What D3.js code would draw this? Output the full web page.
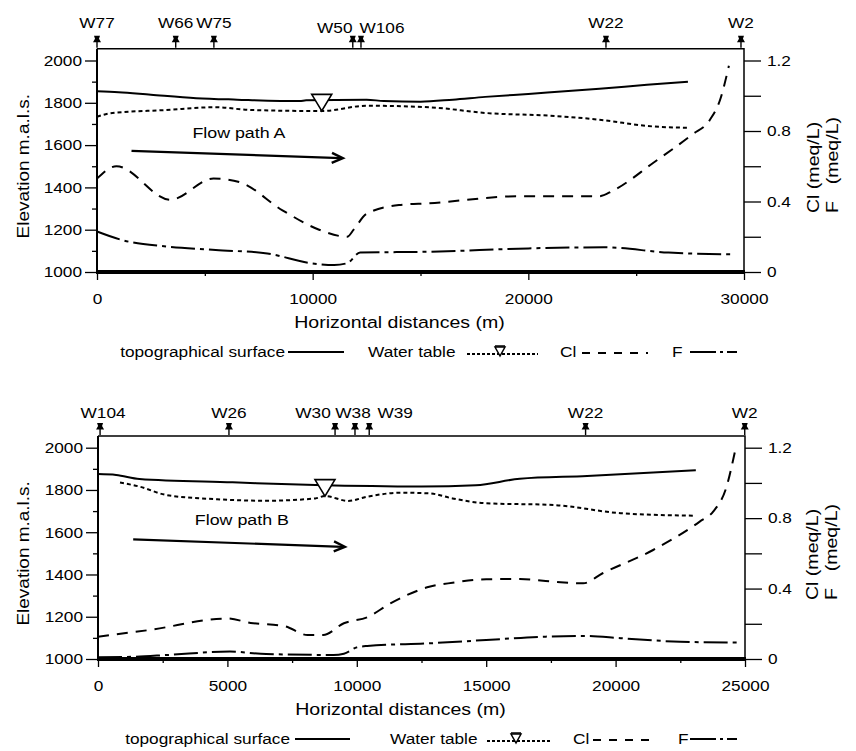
<!DOCTYPE html>
<html><head><meta charset="utf-8">
<script src="https://cdn.jsdelivr.net/npm/d3@7"></script>
<style>
body{margin:0;background:#fff}
svg{display:block}
text{font-family:"Liberation Sans",Arial,sans-serif;fill:#000}
</style>
</head><body>
<svg id="c" width="856" height="751"></svg>
<script>
// ---------------- DATA ----------------
// Flow path A
const wellsA = ["W77","W66","W75","W50","W106","W22","W2"];
const wellsAx = [0,3650,5420,11860,12240,23600,29860];
const xTicksA = [0,10000,20000,30000];
const xMinorA = [5000,15000,25000];
const topoA = [[0,1855],[1000,1850],[2500,1838],[4600,1822],[6500,1815],[9400,1808],[9700,1812],[12500,1815],[13300,1808],[15000,1805],[16500,1815],[18000,1828],[20000,1842],[23300,1866],[25500,1885],[27400,1900]];
const waterA = [[0,1734],[600,1750],[3200,1766],[5500,1779],[7100,1766],[10400,1761],[12500,1786],[15400,1779],[18000,1752],[21200,1738],[23300,1720],[25800,1688],[27400,1682]];
const clA = [[0,0.53],[900,0.60],[3400,0.41],[5400,0.53],[6600,0.51],[8600,0.35],[10300,0.24],[11600,0.20],[11900,0.24],[12500,0.33],[14000,0.38],[15400,0.39],[19600,0.43],[23300,0.43],[23900,0.46],[25800,0.62],[27600,0.78],[28400,0.86],[28900,0.98],[29300,1.17]];
const fA = [[0,0.23],[1200,0.18],[3200,0.145],[5500,0.125],[7900,0.105],[9900,0.05],[11000,0.04],[11600,0.05],[12200,0.11],[15400,0.115],[20000,0.134],[23500,0.14],[26500,0.11],[29500,0.10]];
const arrowA = [[1600,1573],[11400,1538]];
const labelA = "Flow path A";
const labelAPos = [6580,1657];
const triA = [10420,1762];

// Flow path B
const wellsB = ["W104","W26","W30","W38","W39","W22","W2"];
const wellsBx = [80,5060,9160,9930,10480,18840,24990];
const xTicksB = [0,5000,10000,15000,20000,25000];
const xMinorB = [2500,7500,12500,17500,22500];
const topoB = [[0,1875],[700,1871],[1600,1852],[5200,1836],[8400,1823],[12500,1816],[14600,1822],[16300,1853],[18900,1866],[23100,1893]];
const waterB = [[850,1835],[1600,1816],[2650,1776],[4600,1756],[6500,1749],[8400,1760],[8770,1771],[9670,1748],[10400,1768],[11700,1787],[12800,1784],[13700,1760],[15000,1737],[17600,1729],[20200,1690],[23100,1678]];
const clB = [[0,0.127],[2000,0.165],[5000,0.23],[5900,0.205],[7200,0.187],[8100,0.136],[8700,0.136],[9500,0.203],[10400,0.237],[11300,0.316],[12800,0.41],[13700,0.433],[15000,0.453],[16300,0.454],[17600,0.439],[18750,0.43],[19500,0.487],[21450,0.619],[23250,0.78],[23770,0.837],[24290,0.98],[24610,1.177]];
const fB = [[0,0.01],[1400,0.013],[2700,0.023],[5100,0.042],[6500,0.028],[9100,0.023],[9500,0.03],[10000,0.066],[10400,0.074],[12800,0.089],[15000,0.108],[17300,0.127],[18900,0.131],[20200,0.118],[22500,0.098],[24700,0.093]];
const arrowB = [[1360,1566],[9540,1531]];
const labelB = "Flow path B";
const labelBPos = [5560,1657];
const triB = [8770,1771];

// shared axes
const yMajor = [1000,1200,1400,1600,1800,2000];
const yMinor = [1100,1300,1500,1700,1900];
const rTicks = [0,0.2,0.4,0.6,0.8,1.0,1.2];
const rLabels = ["0","","0.4","","0.8","","1.2"];
const legendNames = ["topographical surface","Water table","Cl","F"];
const yTitle = "Elevation m.a.l.s.";
const xTitle = "Horizontal distances (m)";

// ---------------- DRAW ----------------
const SX = 1.15;
const svg = d3.select("#c");

function txt(p, x, y, s, size, anchor, rot){
  return p.append("text")
    .attr("transform", `translate(${x},${y})` + (rot ? ` rotate(${rot})` : "") + ` scale(${SX},1)`)
    .attr("text-anchor", anchor).attr("font-size", size).text(s);
}
function stretchAxisText(g, size){
  g.selectAll("text").each(function(){
    const t = d3.select(this);
    const x0 = +(t.attr("x") || 0);
    t.attr("x", x0/SX).attr("transform", `scale(${SX},1)`)
     .attr("font-size", size).attr("font-family", '"Liberation Sans",Arial,sans-serif').attr("fill","#000");
  });
  g.selectAll("line").attr("stroke","#000").attr("stroke-width",1.3);
}

const DASH = {topo:null, water:"4,3", cl:"11,8", f:"24,5,4,5"};

function panel(c){
  const g = svg.append("g");
  const x = d3.scaleLinear().domain([0, c.xMax]).range([c.left, c.right]);
  const y = d3.scaleLinear().domain([1000,2000]).range([c.bottom, c.y2000]);
  const yr = d3.scaleLinear().domain([0,1.2]).range([c.bottom, c.y2000]);
  const yTop = y(2055);

  // left axis
  const la = g.append("g").attr("transform",`translate(${c.left},0)`)
    .call(d3.axisLeft(y).tickValues(yMajor).tickSize(12).tickPadding(3).tickSizeOuter(0).tickFormat(d3.format("d")));
  la.select(".domain").remove();
  stretchAxisText(la, 15);
  const lm = g.append("g").attr("transform",`translate(${c.left},0)`)
    .call(d3.axisLeft(y).tickValues(yMinor).tickSize(5).tickFormat("").tickSizeOuter(0));
  lm.select(".domain").remove(); stretchAxisText(lm, 15);

  // right axis
  const ra = g.append("g").attr("transform",`translate(${c.right},0)`)
    .call(d3.axisRight(yr).tickValues(rTicks).tickSize(17).tickPadding(6).tickSizeOuter(0)
      .tickFormat((d,i)=>rLabels[i]));
  ra.select(".domain").remove(); stretchAxisText(ra, 15);

  // bottom axis
  const ba = g.append("g").attr("transform",`translate(0,${c.bottom})`)
    .call(d3.axisBottom(x).tickValues(c.xTicks).tickSize(8).tickPadding(13).tickSizeOuter(0).tickFormat(d3.format("d")));
  ba.select(".domain").remove(); stretchAxisText(ba, 15);
  const bm = g.append("g").attr("transform",`translate(0,${c.bottom})`)
    .call(d3.axisBottom(x).tickValues(c.xMinor).tickSize(4).tickFormat("").tickSizeOuter(0));
  bm.select(".domain").remove(); stretchAxisText(bm, 15);

  // frame
  g.append("path").attr("d",`M${c.left},${yTop}H${c.right}V${c.bottom}`)
    .attr("fill","none").attr("stroke","#000").attr("stroke-width",1.5);
  g.append("line").attr("x1",c.left).attr("x2",c.left).attr("y1",yTop).attr("y2",c.bottom)
    .attr("stroke","#000").attr("stroke-width",2);
  g.append("line").attr("x1",c.left-1).attr("x2",c.right+1).attr("y1",c.bottom).attr("y2",c.bottom)
    .attr("stroke","#000").attr("stroke-width",4);

  // series
  const lineE = d3.line().x(d=>x(d[0])).y(d=>y(d[1])).curve(d3.curveMonotoneX);
  const lineR = d3.line().x(d=>x(d[0])).y(d=>yr(d[1])).curve(d3.curveMonotoneX);
  const series = [
    [c.topo, lineE, DASH.topo],
    [c.water, lineE, DASH.water],
    [c.cl, lineR, DASH.cl],
    [c.f, lineR, DASH.f]
  ];
  series.forEach(([data, gen, dash])=>{
    g.append("path").attr("d", gen(data)).attr("fill","none").attr("stroke","#000")
      .attr("stroke-width",2).attr("stroke-dasharray", dash);
  });

  // water table triangle
  const tx = x(c.tri[0]), ty = y(c.tri[1]);
  g.append("path").attr("d",`M${tx},${ty}L${tx-10},${ty-16.5}L${tx+10},${ty-16.5}Z`)
    .attr("fill","#fff").attr("stroke","#000").attr("stroke-width",1.6);

  // flow arrow
  const a0 = [x(c.arrow[0][0]), y(c.arrow[0][1])], a1 = [x(c.arrow[1][0]), y(c.arrow[1][1])];
  g.append("line").attr("x1",a0[0]).attr("y1",a0[1]).attr("x2",a1[0]-2).attr("y2",a1[1])
    .attr("stroke","#000").attr("stroke-width",2.2);
  const ang = Math.atan2(a1[1]-a0[1], a1[0]-a0[0]);
  const hx = Math.cos(ang), hy = Math.sin(ang);
  g.append("path").attr("d",
      `M${a1[0]-11*hx+5*hy},${a1[1]-11*hy-5*hx}L${a1[0]},${a1[1]}L${a1[0]-11*hx-5*hy},${a1[1]-11*hy+5*hx}`)
    .attr("fill","none").attr("stroke","#000").attr("stroke-width",2.4);
  txt(g, x(c.labelPos[0]), y(c.labelPos[1])+5, c.label, 15.5, "middle");

  // wells
  c.wells.forEach((w,i)=>{
    const wx = x(c.wellsX[i]);
    const tip = yTop - 1;
    g.append("path").attr("d",`M${wx-3},${tip-12}L${wx+3},${tip-12}L${wx+2},${tip-9}L${wx+4},${tip-5.5}L${wx-4},${tip-5.5}L${wx-2},${tip-9}Z`)
      .attr("fill","#000");
    g.append("line").attr("x1",wx).attr("x2",wx).attr("y1",tip-6).attr("y2",tip)
      .attr("stroke","#000").attr("stroke-width",1.4);
    const off = c.labelOff[w] || [0,0];
    txt(g, wx+off[0], c.labelY+off[1], w, 15, "middle");
  });

  // titles
  txt(g, 29, (c.y2000+c.bottom)/2, yTitle, 16.5, "middle", -90);
  txt(g, (c.left+c.right)/2 + c.xTitleDx, c.bottom+56, xTitle, 17, "middle");
  txt(g, c.rtX, c.rtBottom, "Cl (meq/L)", 17, "start", -90);
  txt(g, c.rtX+19, c.rtBottom, "F", 17, "start", -90);
  txt(g, c.rtX+19, c.rtBottom-96, "(meq/L)", 17, "end", -90);

  // legend
  const L = c.legend, ly = c.bottom + 85;
  txt(g, L[0], ly, legendNames[0], 15, "end");
  g.append("line").attr("x1",L[1]).attr("x2",L[2]).attr("y1",ly-5).attr("y2",ly-5).attr("stroke","#000").attr("stroke-width",2);
  txt(g, L[3], ly, legendNames[1], 15, "start");
  g.append("line").attr("x1",L[4]).attr("x2",L[5]).attr("y1",ly-3).attr("y2",ly-3).attr("stroke","#000").attr("stroke-width",2).attr("stroke-dasharray","3,2");
  g.append("path").attr("d",`M${L[6]},${ly-1}L${L[6]-5},${ly-10}L${L[6]+5},${ly-10}Z`).attr("fill","#fff").attr("stroke","#000").attr("stroke-width",1.5);
  g.append("line").attr("x1",L[6]-5).attr("x2",L[6]+5).attr("y1",ly-11).attr("y2",ly-11).attr("stroke","#000").attr("stroke-width",1.5);
  txt(g, L[7], ly, legendNames[2], 15, "start");
  g.append("line").attr("x1",L[8]).attr("x2",L[9]).attr("y1",ly-4).attr("y2",ly-4).attr("stroke","#000").attr("stroke-width",2).attr("stroke-dasharray","8,8");
  txt(g, L[10], ly, legendNames[3], 15, "start");
  g.append("line").attr("x1",L[11]).attr("x2",L[12]).attr("y1",ly-5).attr("y2",ly-5).attr("stroke","#000").attr("stroke-width",2).attr("stroke-dasharray","26,4,3,4,10");
}

panel({
  xMax:30000, left:97, right:744, bottom:272, y2000:60.5,
  xTicks:xTicksA, xMinor:xMinorA,
  topo:topoA, water:waterA, cl:clA, f:fA, tri:triA,
  arrow:arrowA, label:labelA, labelPos:labelAPos,
  wells:wellsA, wellsX:wellsAx, labelY:28, labelOff:{W50:[-18,5], W106:[21,5]},
  xTitleDx:-21, rtX:819, rtBottom:213,
  legend:[285,288,344,368,467,538,500,560,582,648,672,690,751]
});
panel({
  xMax:25000, left:98, right:745, bottom:659, y2000:447.7,
  xTicks:xTicksB, xMinor:xMinorB,
  topo:topoB, water:waterB, cl:clB, f:fB, tri:triB,
  arrow:arrowB, label:labelB, labelPos:labelBPos,
  wells:wellsB, wellsX:wellsBx, labelY:418, labelOff:{W104:[3,0], W30:[-22,0], W38:[-2,0], W39:[26,0]},
  xTitleDx:-21, rtX:818, rtBottom:600,
  legend:[290,295,350,390,487,552,516,573,593,650,678,690,757]
});
</script>
</body></html>
